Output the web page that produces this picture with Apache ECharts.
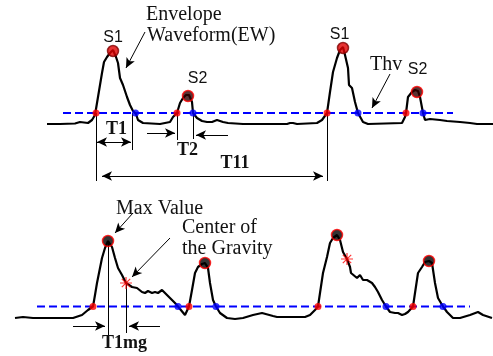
<!DOCTYPE html>
<html>
<head>
<meta charset="utf-8">
<script src="https://cdn.jsdelivr.net/npm/echarts@6/dist/echarts.min.js"></script>
<style>
  html, body { margin: 0; padding: 0; background: #fff; }
  #chart { width: 493px; height: 356px; }
</style>
</head>
<body>
<div id="chart"></div>
<script>
// upper trace: [time, amplitude]
const topWave = [
  [47, 0], [60, 0], [75, 0.5], [80, 2], [88, 1], [92, 4], [95, 9], [96, 11], [98, 27], [102, 51],
  [104, 62], [107, 67], [110, 71], [113, 74], [116, 67], [118, 61], [120, 46], [123, 39], [127, 27],
  [130, 19], [133, 13], [136, 10], [138, 4], [143, 1], [160, 0], [165, 1], [170, 2], [173, 7],
  [177, 11], [180, 21], [183, 26], [186, 29], [189, 29], [192, 22], [193, 11], [197, 6], [202, 3],
  [207, 2], [212, 2], [217, 4], [223, 2], [228, 1], [243, 0], [287, 0], [290, 1], [293, 1], [297, 0],
  [317, 1], [322, 4], [327, 11], [330, 32], [333, 52], [337, 66], [340, 74], [343, 77], [345, 69],
  [348, 56], [349, 39], [352, 36], [355, 22], [358, 11], [363, 2], [368, 0], [402, 1], [405, 7],
  [406, 11], [408, 27], [412, 32], [415, 34], [418, 33], [420, 27], [423, 11], [425, 4], [430, 5],
  [440, 4], [447, 3], [460, 2], [470, 1], [477, 0], [493, 0]
];
const topThv = 11;
const topThvSpan = [63, 453];
const topRise = [96, 177, 327, 406];
const topFall = [135.5, 193, 358, 423];
const topPeaksS1 = [[113, 73], [343, 76]];
const topPeaksS2 = [[188, 28], [417, 32]];

// lower trace: [time, amplitude]
const bottomWave = [
  [15, 0], [23, 1], [33, 0], [50, 0], [73, 0], [82, 3], [88, 8], [93, 11.5], [95, 23], [97, 35],
  [100, 50], [102, 60], [105, 70], [108, 77], [112, 71], [115, 60], [118, 50], [122, 43], [126, 35],
  [132, 31], [137, 30], [142, 26], [145, 25], [148, 27], [152, 25], [155, 26], [158, 25], [162, 28],
  [165, 25], [170, 20], [175, 15], [178, 11.5], [185, 3], [189, 11.5], [192, 28], [195, 45],
  [198, 51], [202, 54], [205, 55], [208, 50], [210, 35], [213, 18], [216, 11.5], [220, 5], [227, 0],
  [235, -1], [243, 0], [253, 3], [262, 5], [273, 2], [277, 1], [305, 1], [310, 3], [315, 8],
  [318, 11.5], [320, 25], [323, 45], [327, 61], [330, 75], [333, 80], [337, 83], [340, 78],
  [343, 66], [347, 59], [350, 51], [351, 45], [353, 43], [357, 40], [360, 43], [363, 38], [367, 38],
  [372, 35], [375, 31], [378, 26], [382, 18], [386, 11.5], [390, 6], [395, 5], [398, 5], [402, 3],
  [405, 4], [408, 6], [413, 11.5], [415, 25], [418, 45], [422, 51], [425, 56], [429, 57], [432, 55],
  [435, 35], [438, 20], [443, 11.5], [447, 6], [453, 0], [460, 0], [470, 3], [478, 6], [483, 3], [492, 0]
];
const bottomThv = 11.5;
const bottomThvSpan = [37, 470];
const bottomRise = [93, 189, 318, 413];
const bottomFall = [178, 216, 386, 443];
const bottomPeaks = [[108, 77], [205, 55], [337, 83], [429, 57]];
const bottomCog = [[126, 35], [347, 59]];

const serif = '"Liberation Serif", "Times New Roman", serif';
const sans = '"Liberation Sans", Arial, sans-serif';

const chart = echarts.init(document.getElementById('chart'), null, { renderer: 'canvas' });

function arrow(a, b) { return [{ coord: a, symbol: 'none' }, { coord: b, symbol: 'arrow' }]; }
function both(a, b) { return [{ coord: a, symbol: 'arrow' }, { coord: b, symbol: 'arrow' }]; }
function seg(a, b) { return [{ coord: a, symbol: 'none' }, { coord: b, symbol: 'none' }]; }

function marks(items) {
  return {
    silent: true,
    symbolSize: [7, 10],
    label: { show: false },
    lineStyle: { color: '#000', width: 1, type: 'solid' },
    data: items
  };
}

function txt(text, x, y, font, align) {
  return {
    type: 'text', x: x, y: y, silent: true,
    style: { text: text, font: font, fill: '#111', align: align || 'left', verticalAlign: 'middle',
      textAlign: align || 'left', textVerticalAlign: 'middle' }
  };
}

const dots = (xs, lvl) => xs.map(x => [x, lvl]);
const cogSymbol = 'path://M5,0L5,10M0,5L10,5M1.5,1.5L8.5,8.5M8.5,1.5L1.5,8.5';

chart.setOption({
  animation: false,
  backgroundColor: '#fff',
  grid: [
    { left: 0, right: 0, top: 0, height: 200 },
    { left: 0, right: 0, top: 200, height: 156 }
  ],
  xAxis: [
    { gridIndex: 0, type: 'value', min: 0, max: 493, show: false },
    { gridIndex: 1, type: 'value', min: 0, max: 493, show: false }
  ],
  yAxis: [
    { gridIndex: 0, type: 'value', min: -76, max: 124, show: false },
    { gridIndex: 1, type: 'value', min: -38, max: 118, show: false }
  ],
  graphic: [
    txt('Envelope', 146, 14.5, '20px ' + serif),
    txt('Waveform(EW)', 147, 36, '20px ' + serif),
    txt('S1', 113, 37.5, '16px ' + sans, 'center'),
    txt('S2', 197.5, 79, '16px ' + sans, 'center'),
    txt('S1', 339.5, 35, '16px ' + sans, 'center'),
    txt('Thv', 370, 65, '20px ' + serif),
    txt('S2', 417.5, 69.5, '16px ' + sans, 'center'),
    txt('T1', 116.5, 129, 'bold 18px ' + serif, 'center'),
    txt('T2', 187.5, 150.5, 'bold 18px ' + serif, 'center'),
    txt('T11', 235, 163, 'bold 18px ' + serif, 'center'),
    txt('Max Value', 116, 208.5, '20px ' + serif),
    txt('Center of', 182, 228, '20px ' + serif),
    txt('the Gravity', 182, 248.5, '20px ' + serif),
    txt('T1mg', 124.5, 343.5, 'bold 18px ' + serif, 'center')
  ],
  series: [
    // upper panel
    {
      type: 'line', xAxisIndex: 0, yAxisIndex: 0, symbol: 'none', silent: true, z: 2,
      data: dots(topThvSpan, topThv),
      lineStyle: { color: '#0000ff', width: 2, type: [8, 4] }
    },
    {
      type: 'line', xAxisIndex: 0, yAxisIndex: 0, symbol: 'none', silent: true, z: 3,
      data: topWave,
      lineStyle: { color: '#000', width: 2.2 },
      markLine: marks([
        arrow([145, 92], [126, 56]),
        arrow([390, 50], [372, 16]),
        seg([96, 11], [96, -57]),
        seg([132, 11], [132, -26]),
        both([97, -18], [131, -18]),
        seg([177, 11], [177, -16]),
        seg([193, 11], [193, -15]),
        arrow([147, -9], [175, -9]),
        arrow([228, -11], [196, -11]),
        seg([327, 11], [327, -57]),
        both([102, -52], [323, -52])
      ])
    },
    {
      type: 'scatter', xAxisIndex: 0, yAxisIndex: 0, silent: true, z: 5,
      symbolSize: 7, data: dots(topRise, topThv), itemStyle: { color: '#ff0000' }
    },
    {
      type: 'scatter', xAxisIndex: 0, yAxisIndex: 0, silent: true, z: 5,
      symbolSize: 7, data: dots(topFall, topThv), itemStyle: { color: '#0000ff' }
    },
    {
      type: 'scatter', xAxisIndex: 0, yAxisIndex: 0, silent: true, z: 6,
      symbolSize: 11, data: topPeaksS1,
      itemStyle: { color: '#e00000', borderColor: '#800000', borderWidth: 1.5 }
    },
    {
      type: 'scatter', xAxisIndex: 0, yAxisIndex: 0, silent: true, z: 6,
      symbolSize: 11, data: topPeaksS2,
      itemStyle: { color: '#300000', borderColor: '#ff0000', borderWidth: 1.5 }
    },
    // lower panel
    {
      type: 'line', xAxisIndex: 1, yAxisIndex: 1, symbol: 'none', silent: true, z: 2,
      data: dots(bottomThvSpan, bottomThv),
      lineStyle: { color: '#0000ff', width: 2, type: [8, 4] }
    },
    {
      type: 'line', xAxisIndex: 1, yAxisIndex: 1, symbol: 'none', silent: true, z: 3,
      data: bottomWave,
      lineStyle: { color: '#000', width: 2.2 },
      markLine: marks([
        arrow([133, 105], [115, 85]),
        arrow([170, 80], [132, 41]),
        seg([108, 77], [108, -17]),
        seg([126, 35], [126, -15]),
        arrow([73, -8], [105, -8]),
        arrow([160, -8], [129, -8])
      ])
    },
    {
      type: 'scatter', xAxisIndex: 1, yAxisIndex: 1, silent: true, z: 5,
      symbolSize: 7, data: dots(bottomRise, bottomThv), itemStyle: { color: '#ff0000' }
    },
    {
      type: 'scatter', xAxisIndex: 1, yAxisIndex: 1, silent: true, z: 5,
      symbolSize: 7, data: dots(bottomFall, bottomThv), itemStyle: { color: '#0000ff' }
    },
    {
      type: 'scatter', xAxisIndex: 1, yAxisIndex: 1, silent: true, z: 6,
      symbolSize: 11, data: bottomPeaks,
      itemStyle: { color: '#000', borderColor: '#ff0000', borderWidth: 1.5 }
    },
    {
      type: 'scatter', xAxisIndex: 1, yAxisIndex: 1, silent: true, z: 6,
      symbol: cogSymbol, symbolSize: 12, data: bottomCog,
      itemStyle: { color: 'none', borderColor: '#ff0000', borderWidth: 1.2 }
    }
  ]
});
</script>
</body>
</html>
